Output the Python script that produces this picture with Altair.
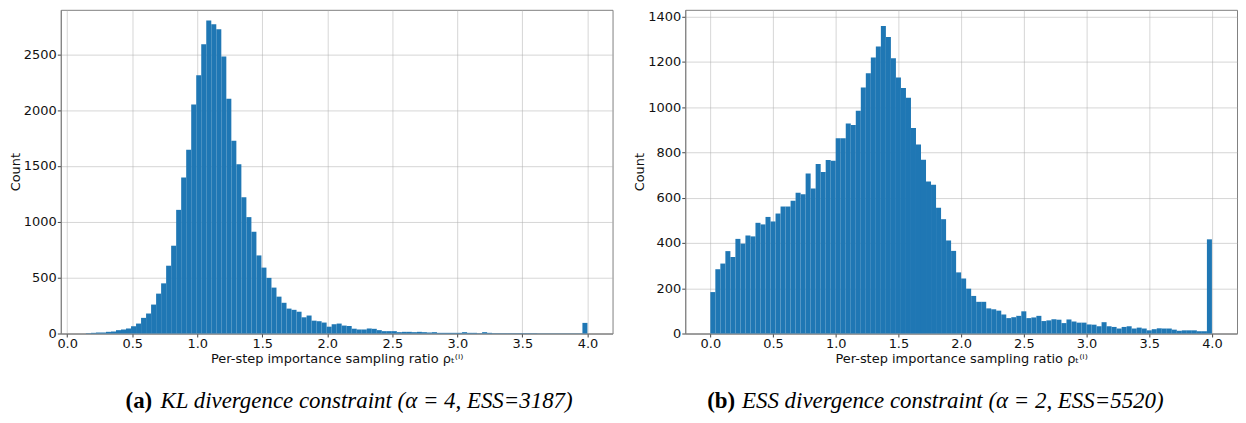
import altair as alt
import pandas as pd

# ---------------- data ----------------
left_bin_start = 0.144
left_bin_width = 0.03856
left_counts = [3, 6, 9, 9, 15, 18, 30, 36, 45, 65,
               89, 140, 179, 259, 357, 449, 607, 786, 1107, 1396,
               1646, 2050, 2312, 2589, 2803, 2768, 2723, 2479, 2101, 1726,
               1515, 1220, 1042, 911, 699, 590, 498, 411, 330, 275,
               223, 212, 195, 145, 161, 115, 110, 98, 61, 83,
               89, 71, 67, 43, 36, 36, 45, 42, 30, 21,
               21, 21, 12, 15, 15, 12, 15, 12, 9, 12,
               6, 6, 6, 6, 6, 12, 6, 6, 3, 12,
               6, 3, 3, 3, 3, 3, 3, 3, 3, 3,
               2, 2, 2, 2, 2, 2, 2, 2, 2, 95]

right_bin_start = 0.0
right_bin_width = 0.04
right_counts = [183, 284, 309, 364, 338, 418, 397, 433, 429, 489,
                482, 515, 495, 530, 561, 561, 586, 622, 615, 707,
                641, 749, 714, 766, 763, 863, 863, 928, 921, 984,
                1087, 1150, 1219, 1268, 1359, 1310, 1216, 1131, 1085, 1042,
                908, 835, 768, 672, 657, 556, 505, 411, 365, 270,
                243, 198, 166, 140, 140, 111, 107, 101, 84, 68,
                72, 78, 98, 68, 71, 78, 55, 58, 63, 61,
                46, 62, 53, 48, 48, 40, 39, 32, 50, 32,
                29, 22, 29, 32, 22, 26, 22, 14, 19, 23,
                22, 22, 17, 12, 14, 14, 14, 10, 10, 416]

x_ticks = [0.0, 0.5, 1.0, 1.5, 2.0, 2.5, 3.0, 3.5, 4.0]
left_y_ticks = [0, 500, 1000, 1500, 2000, 2500]
right_y_ticks = [0, 200, 400, 600, 800, 1000, 1200, 1400]

x_title = "Per-step importance sampling ratio ρₜ⁽ⁱ⁾"
left_caption_label = "(a)"
left_caption_text = "KL divergence constraint (α = 4, ESS=3187)"
right_caption_label = "(b)"
right_caption_text = "ESS divergence constraint (α = 2, ESS=5520)"

W, H = 554, 325
BAR = "#1f77b4"


def hist_df(start, width, counts):
    return pd.DataFrame({
        "lo": [start + i * width for i in range(len(counts))],
        "hi": [start + (i + 1) * width for i in range(len(counts))],
        "count": counts,
    })


def panel(df, xdom, ymax, yticks, label, text, label_x, text_x):
    bars = alt.Chart(df).mark_rect(color=BAR).encode(
        x=alt.X("lo:Q",
                scale=alt.Scale(domain=xdom, nice=False, zero=False),
                axis=alt.Axis(values=x_ticks, format=".1f", title=x_title,
                              labelFlush=False)),
        x2="hi:Q",
        y=alt.Y("count:Q",
                scale=alt.Scale(domain=[0, ymax], nice=False),
                axis=alt.Axis(values=yticks, format="d", title="Count")),
        y2=alt.datum(0),
    )
    cap1 = alt.Chart(pd.DataFrame({"t": [label]})).mark_text(
        font="Liberation Serif", fontSize=23, fontWeight="bold",
        align="left", baseline="alphabetic", color="black"
    ).encode(text="t:N", x=alt.value(label_x), y=alt.value(H + 75))
    cap2 = alt.Chart(pd.DataFrame({"t": [text]})).mark_text(
        font="Liberation Serif", fontSize=23, fontStyle="italic",
        align="left", baseline="alphabetic", color="black"
    ).encode(text="t:N", x=alt.value(text_x), y=alt.value(H + 75))
    return alt.layer(bars, cap1, cap2).properties(width=W, height=H)


left = panel(hist_df(left_bin_start, left_bin_width, left_counts),
             [-0.049, 4.193], 2898, left_y_ticks,
             left_caption_label, left_caption_text, 65, 100)
right = panel(hist_df(right_bin_start, right_bin_width, right_counts),
              [-0.2, 4.2], 1430, right_y_ticks,
              right_caption_label, right_caption_text, 22, 57)

chart = alt.hconcat(left, right, spacing=19).properties(
    padding=0, background="white"
).configure_view(
    stroke="#808080", strokeWidth=1
).configure_axis(
    labelFont="DejaVu Sans", labelFontSize=13, labelColor="#111111",
    titleFont="DejaVu Sans", titleFontSize=13, titleFontWeight="normal",
    titleColor="#111111",
    domainColor="#808080", tickColor="#444444", tickSize=3.5,
    labelPadding=1, titlePadding=1,
    gridColor="#b0b0b0", gridOpacity=0.65, gridWidth=0.8,
    zindex=1,
).configure_axisX(
    labelPadding=1, titlePadding=2,
)

chart.save("out.html", embed_options={"renderer": "svg", "actions": False})
